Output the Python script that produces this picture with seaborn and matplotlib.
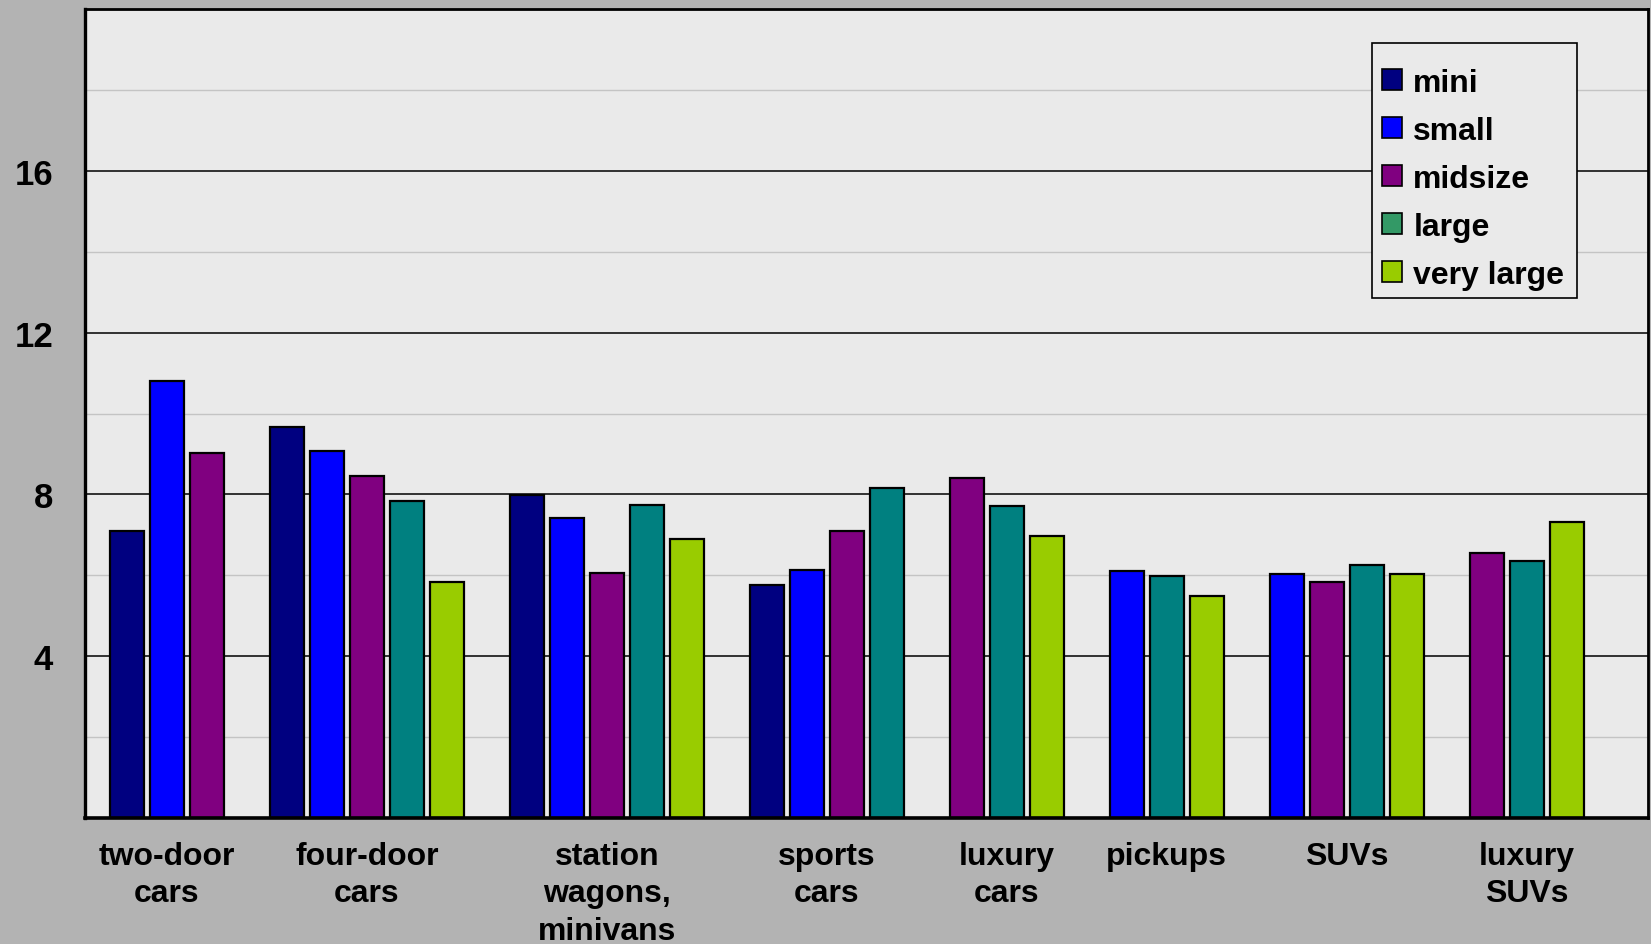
import numpy as np
import pandas as pd
import matplotlib
matplotlib.use("Agg")
import matplotlib.pyplot as plt
from matplotlib.patches import Patch, Rectangle
import seaborn as sns

# ---------------- data ----------------
categories = ["two-door\ncars", "four-door\ncars", "station\nwagons,\nminivans",
              "sports\ncars", "luxury\ncars", "pickups", "SUVs", "luxury\nSUVs"]
sizes = ["mini", "small", "midsize", "large", "very large"]
mini = [7.10, 9.67, 7.98, 5.76, None, None, None, None]
small = [10.81, 9.07, 7.41, 6.13, None, 6.10, 6.02, None]
midsize = [9.03, 8.46, 6.06, 7.09, 8.40, None, 5.84, 6.54]
large = [None, 7.84, 7.74, 8.16, 7.71, 5.99, 6.25, 6.35]
very_large = [None, 5.84, 6.89, None, 6.98, 5.48, 6.02, 7.33]
y_ticks = [4, 8, 12, 16]

bar_colors = {"mini": "#000080", "small": "#0000ff", "midsize": "#800080",
              "large": "#008080", "very large": "#99cc00"}
legend_colors = {"mini": "#000080", "small": "#0000ff", "midsize": "#800080",
                 "large": "#339966", "very large": "#99cc00"}

series = dict(zip(sizes, [mini, small, midsize, large, very_large]))

# build long table: bars packed per group with one empty slot between groups
rows, centers = [], []
slot = 0
for gi, cat in enumerate(categories):
    first = slot
    for s in sizes:
        v = series[s][gi]
        if v is not None:
            rows.append({"pos": slot, "value": v, "size": s})
            slot += 1
    centers.append((first + slot - 1) / 2)
    slot += 1
df = pd.DataFrame(rows)

# ---------------- style ----------------
sns.set_style("white")
plt.rcParams["font.family"] = ["Liberation Sans", "DejaVu Sans"]
plt.rcParams["font.weight"] = "bold"
plt.rcParams["text.color"] = "black"
plt.rcParams["xtick.color"] = "black"
plt.rcParams["ytick.color"] = "black"
plt.rcParams["axes.labelcolor"] = "black"

W, H = 1651, 945
fig = plt.figure(figsize=(W / 100, H / 100), dpi=100, facecolor="#b3b3b3")
ax = fig.add_axes([85 / W, 1 - 819 / H, (1648 - 85) / W, (819 - 10) / H])
ax.set_facecolor("#eaeaea")

sns.barplot(data=df, x="pos", y="value", hue="size", hue_order=sizes,
            palette=bar_colors, native_scale=True, dodge=False, width=0.85,
            errorbar=None, edgecolor="black", linewidth=1.6, saturation=1,
            legend=False, ax=ax)

ax.set_xlim(-1.05, 38.03)
ax.set_ylim(0, 20)
ax.set_axisbelow(True)

ax.set_yticks(y_ticks)
ax.set_yticklabels([str(t) for t in y_ticks], fontsize=25, fontweight="bold", color="black")
ax.set_yticks([2, 6, 10, 14, 18], minor=True)
ax.grid(axis="y", which="major", color="black", linewidth=1.1)
ax.grid(axis="y", which="minor", color="#c4c4c4", linewidth=1.0)
ax.grid(axis="x", visible=False)
ax.tick_params(axis="y", which="both", length=0, pad=23)

ax.set_xticks(centers)
ax.set_xticklabels(categories, fontsize=23, fontweight="bold", linespacing=1.32, color="black")
ax.tick_params(axis="x", length=0, pad=16.5)
ax.set_xlabel("")
ax.set_ylabel("")

for side, sp in ax.spines.items():
    sp.set_visible(True)
    sp.set_color("black")
    sp.set_linewidth(2.0)
ax.spines["bottom"].set_linewidth(2.6)
ax.spines["left"].set_linewidth(2.4)

# legend box (frame drawn separately for exact padding)
box_x0, box_y0, box_x1, box_y1 = 1372, 44, 1577, 299
ax.add_patch(Rectangle((box_x0 / W, 1 - box_y1 / H), (box_x1 - box_x0) / W,
                       (box_y1 - box_y0) / H, transform=fig.transFigure,
                       facecolor="#eaeaea", edgecolor="black", linewidth=1.2,
                       zorder=4, clip_on=False))

handles = [Patch(facecolor=legend_colors[s], edgecolor="black", linewidth=1.2, label=s)
           for s in sizes]
leg = ax.legend(handles=handles, loc="upper left",
                bbox_to_anchor=(1382 / W, 1 - 69 / H), bbox_transform=fig.transFigure,
                borderaxespad=0, frameon=False,
                prop={"size": 23, "weight": "bold"}, labelcolor="black",
                handlelength=0.63, handleheight=0.63, handletextpad=0.35,
                labelspacing=0.56, borderpad=0)
leg.set_zorder(5)

fig.savefig("out.png", dpi=100, facecolor=fig.get_facecolor())
